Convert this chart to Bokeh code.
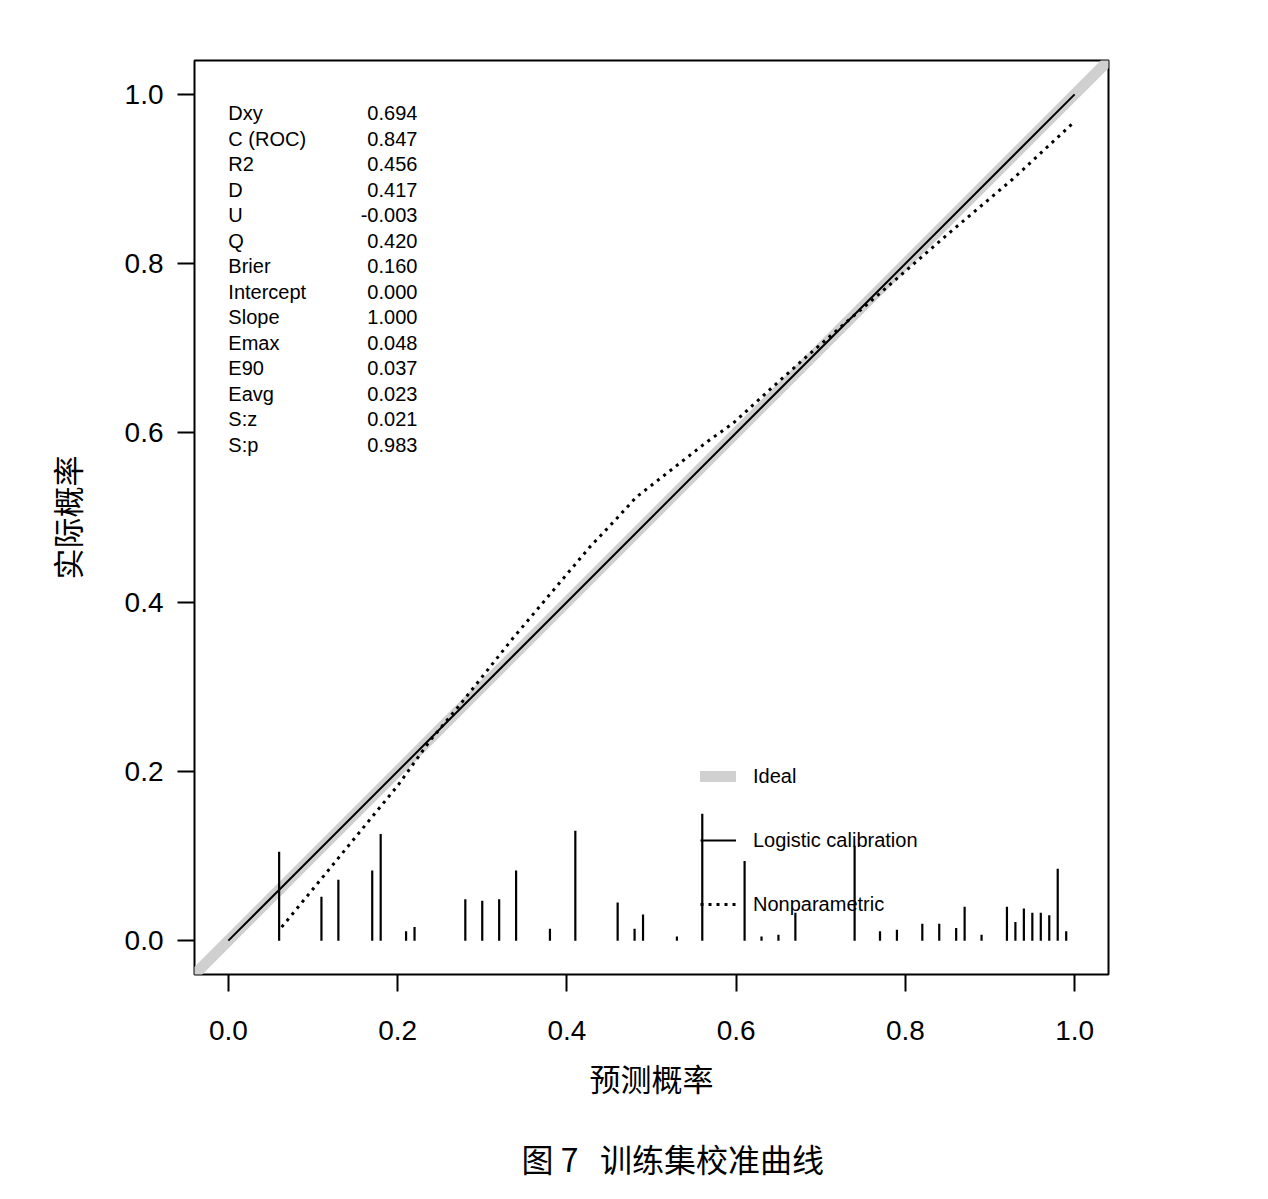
from bokeh.plotting import figure
from bokeh.models import Range1d, Legend, LegendItem, Title, ColumnDataSource, FixedTicker, PrintfTickFormatter
from bokeh.core.properties import value
from bokeh.embed import file_html
from bokeh.resources import INLINE

# ---------------- data ----------------
ideal_x = [-0.1, 1.1]
ideal_y = [-0.1, 1.1]

logistic_x = [0.0, 0.25, 0.5, 0.75, 1.0]
logistic_y = [0.0, 0.25, 0.5, 0.75, 1.0]

nonpar_x = [0.063, 0.10, 0.15, 0.20, 0.238, 0.273, 0.336, 0.40, 0.427, 0.46, 0.482,
            0.537, 0.565, 0.596, 0.643, 0.683, 0.72, 0.77, 0.848, 0.927, 0.998]
nonpar_y = [0.016, 0.061, 0.122, 0.183, 0.236, 0.278, 0.357, 0.433, 0.465, 0.500, 0.524,
            0.567, 0.589, 0.611, 0.654, 0.690, 0.722, 0.765, 0.833, 0.900, 0.966]

spike_x = [0.06, 0.11, 0.13, 0.17, 0.18, 0.21, 0.22, 0.28, 0.30, 0.32, 0.34, 0.38, 0.41,
           0.46, 0.48, 0.49, 0.53, 0.56, 0.61, 0.63, 0.65, 0.67, 0.74, 0.77, 0.79, 0.82,
           0.84, 0.86, 0.87, 0.89, 0.92, 0.93, 0.94, 0.95, 0.96, 0.97, 0.98, 0.99]
spike_h = [0.105, 0.052, 0.072, 0.083, 0.126, 0.011, 0.016, 0.049, 0.047, 0.049, 0.083, 0.014, 0.130,
           0.045, 0.014, 0.031, 0.005, 0.150, 0.094, 0.005, 0.007, 0.033, 0.112, 0.011, 0.013, 0.020,
           0.020, 0.015, 0.040, 0.007, 0.040, 0.022, 0.038, 0.033, 0.033, 0.030, 0.085, 0.011]

stat_names = ["Dxy", "C (ROC)", "R2", "D", "U", "Q", "Brier", "Intercept", "Slope",
              "Emax", "E90", "Eavg", "S:z", "S:p"]
stat_values = ["0.694", "0.847", "0.456", "0.417", "-0.003", "0.420", "0.160", "0.000",
               "1.000", "0.048", "0.037", "0.023", "0.021", "0.983"]

tick_values = [0.0, 0.2, 0.4, 0.6, 0.8, 1.0]

x_label = "预测概率"
y_label = "实际概率"
caption = "图\u00a07\u00a0\u00a0\u00a0训练集校准曲线"
legend_labels = ["Ideal", "Logistic calibration", "Nonparametric"]

# ---------------- figure ----------------
LAT = "Liberation Sans"
CJK = "Noto Sans CJK SC"

p = figure(output_backend="svg", toolbar_location=None,
           frame_width=914, frame_height=914,
           min_border_left=194, min_border_right=160,
           min_border_top=60, min_border_bottom=225,
           x_range=Range1d(-0.04, 1.04), y_range=Range1d(-0.04, 1.04),
           background_fill_color="white", border_fill_color="white")

p.grid.visible = False
p.outline_line_color = "black"
p.outline_line_width = 2
p.outline_line_alpha = 1.0

for ax in (p.xaxis[0], p.yaxis[0]):
    ax.ticker = FixedTicker(ticks=tick_values)
    ax.formatter = PrintfTickFormatter(format="%.1f")
    ax.axis_line_color = None
    ax.major_tick_in = 0
    ax.major_tick_out = 17
    ax.major_tick_line_width = 2
    ax.major_tick_line_color = "black"
    ax.minor_tick_line_color = None
    ax.major_label_text_font = LAT
    ax.major_label_text_font_size = "28px"
    ax.major_label_text_color = "black"
    ax.axis_label_text_font = CJK
    ax.axis_label_text_font_size = "31px"
    ax.axis_label_text_font_style = "normal"
    ax.axis_label_text_color = "black"

p.xaxis[0].axis_label = x_label
p.yaxis[0].axis_label = y_label
p.xaxis[0].major_label_standoff = 29
p.yaxis[0].major_label_standoff = 14
p.xaxis[0].axis_label_standoff = 12
p.yaxis[0].axis_label_standoff = 33

# ideal line
r_ideal = p.line(ideal_x, ideal_y, line_color="#d0d0d0", line_width=11, line_cap="round")
# rug spikes
p.segment(x0=spike_x, y0=[0.0] * len(spike_x), x1=spike_x, y1=spike_h,
          line_color="black", line_width=2.2)
# logistic calibration
r_log = p.line(logistic_x, logistic_y, line_color="black", line_width=2)
# nonparametric
r_np = p.line(nonpar_x, nonpar_y, line_color="black", line_width=3, line_dash="3 5")

# statistics block
n = len(stat_names)
row_y = [0.9775 - 0.0301 * i for i in range(n)]
src_stats = ColumnDataSource(dict(name=stat_names, val=stat_values, y=row_y,
                                  xn=[0.0] * n, xv=[0.2234] * n))
p.text(x="xn", y="y", text="name", source=src_stats, text_font=value(LAT),
       text_font_size="20px", text_baseline="middle", text_align="left", text_color="black")
p.text(x="xv", y="y", text="val", source=src_stats, text_font=value(LAT),
       text_font_size="20px", text_baseline="middle", text_align="right", text_color="black")

# legend
legend = Legend(items=[LegendItem(label=legend_labels[0], renderers=[r_ideal]),
                       LegendItem(label=legend_labels[1], renderers=[r_log]),
                       LegendItem(label=legend_labels[2], renderers=[r_np])],
                location=(506, 58), orientation="vertical",
                glyph_width=36, glyph_height=24, label_height=24, spacing=40,
                label_standoff=17, padding=0, margin=0,
                border_line_color=None, background_fill_alpha=0,
                label_text_font=LAT, label_text_font_size="20px", label_text_color="black")
p.add_layout(legend, "center")

# caption (below the x axis)
cap = Title(text=caption, align="left", offset=327, standoff=60,
            text_font=CJK, text_font_size="32px", text_font_style="normal",
            text_color="black")
p.add_layout(cap, "below")

open("out.html", "w").write(file_html(p, INLINE))
